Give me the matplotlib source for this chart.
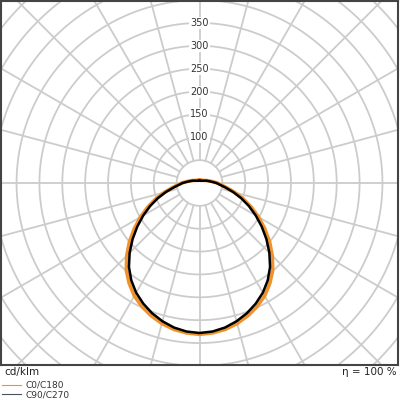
import matplotlib
matplotlib.use("Agg")
import matplotlib.pyplot as plt
import numpy as np

# gamma angles (deg from nadir) and intensities in cd/klm
gamma = list(range(0, 181, 5))
c0_c180 = [331, 329, 325, 318, 309, 298, 285, 268, 249, 225, 200, 174, 149, 125, 102, 80, 61, 48, 39,
           30, 24, 19, 16, 13, 11, 10, 9, 8, 7.5, 7, 7, 6.5, 6.5, 6.5, 6.5, 6.5, 6.5]
c90_c270 = [328, 326, 321, 313, 303, 291, 277, 260, 240, 216, 191, 166, 142, 119, 97, 76, 58, 45, 37,
            28, 22, 18, 15, 12, 10, 9, 8, 7, 6.5, 6, 5.5, 5.2, 5, 5, 5, 5, 5]

ring_values = [50, 100, 150, 200, 250, 300, 350, 400, 450, 500, 550, 600]
ring_labels = [100, 150, 200, 250, 300, 350]
spoke_step = 15
efficiency = "η = 100 %"
unit = "cd/klm"

fig = plt.figure(figsize=(4, 4), dpi=100)
ax = fig.add_axes([1 / 400, 35 / 400, 397 / 400, 364 / 400])
ax.set_xlim(-434, 434)
ax.set_ylim(-398, 398)
ax.set_xticks([])
ax.set_yticks([])
for s in ax.spines.values():
    s.set_color("#444444")
    s.set_linewidth(1.5)

grid_kw = dict(color="#cccccc", lw=1.3, zorder=1)
t = np.linspace(0, 2 * np.pi, 400)
for r in ring_values:
    ax.plot(r * np.cos(t), r * np.sin(t), **grid_kw)
r0, r1 = ring_values[0], ring_values[-1]
for a in np.deg2rad(np.arange(0, 360, spoke_step)):
    ax.plot([r0 * np.sin(a), r1 * np.sin(a)], [r0 * np.cos(a), r1 * np.cos(a)], **grid_kw)

for v in ring_labels:
    ax.text(0, v, str(v), ha="center", va="center", fontsize=7, color="#333333", zorder=2,
            bbox=dict(boxstyle="square,pad=0.1", fc="white", ec="none"))


def curve(values):
    g = np.deg2rad(np.array(gamma, dtype=float))
    v = np.array(values, dtype=float)
    g_full = np.concatenate([-g[::-1], g[1:]])
    v_full = np.concatenate([v[::-1], v[1:]])
    return v_full * np.sin(g_full), -v_full * np.cos(g_full)


x, y = curve(c0_c180)
ax.plot(x, y, color="#f0922b", lw=2.6, zorder=3, solid_joinstyle="round")
x, y = curve(c90_c270)
ax.plot(x, y, color="black", lw=1.8, zorder=4, solid_joinstyle="round")

fig.text(4 / 400, 1 - 372 / 400, unit, ha="left", va="center", fontsize=7.5, color="#222222")
fig.text(397 / 400, 1 - 372 / 400, efficiency, ha="right", va="center", fontsize=7.5, color="#222222")

h1, = ax.plot([], [], color="#f0922b", lw=0.8)
h2, = ax.plot([], [], color="#4a5060", lw=0.8)
fig.legend([h1, h2], ["C0/C180", "C90/C270"], loc="upper left", bbox_to_anchor=(0.0, 1 - 379 / 400),
           frameon=False, fontsize=6.5, handlelength=2.1, handletextpad=0.55, labelspacing=0.05,
           borderpad=0.2, borderaxespad=0.0, labelcolor="#333333")

fig.savefig("out.png", dpi=100)
